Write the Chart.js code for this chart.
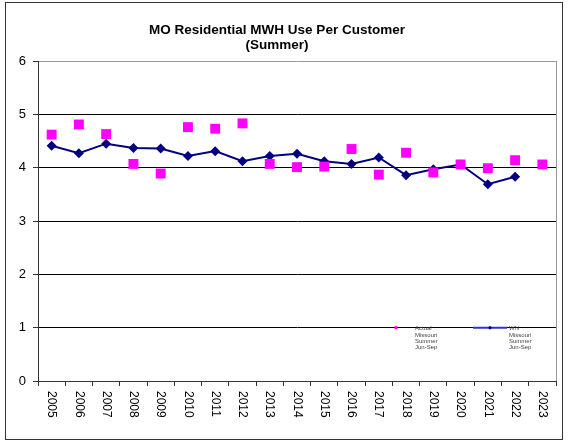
<!DOCTYPE html>
<html>
<head>
<meta charset="utf-8">
<script src="https://cdn.jsdelivr.net/npm/chart.js@4"></script>
<style>
  html, body { margin: 0; padding: 0; background: #fff; }
  #wrap { width: 568px; height: 443px; }
</style>
</head>
<body>
<div id="wrap"><canvas id="chart" width="568" height="443"></canvas></div>
<script>
// data
const years = ['2005','2006','2007','2008','2009','2010','2011','2012','2013','2014',
               '2015','2016','2017','2018','2019','2020','2021','2022','2023'];
const actualUse = [4.62, 4.81, 4.63, 4.07, 3.89, 4.76, 4.73, 4.83, 4.07, 4.01,
                   4.02, 4.35, 3.87, 4.28, 3.91, 4.06, 3.99, 4.14, 4.06];
const wnUse = [4.41, 4.27, 4.45, 4.37, 4.36, 4.22, 4.31, 4.12, 4.22, 4.26,
               4.12, 4.07, 4.19, 3.86, 3.97, 4.06, 3.69, 3.83, null];
const titleLines = ['MO Residential MWH Use Per Customer', '(Summer)'];
const actualLegend = ['Actual', 'Missouri', 'Summer', 'Jun-Sep'];
const wnLegend = ['WN', 'Missouri', 'Summer', 'Jun-Sep'];

const FONT = "'Liberation Sans', Arial, sans-serif";

// frame, title, right border, rotated year labels, small legend
const decor = {
  id: 'decor',
  afterDraw(chart) {
    const c = chart.ctx;
    const area = chart.chartArea;
    const xs = chart.scales.x;
    c.save();

    // outer frame
    c.strokeStyle = '#333';
    c.lineWidth = 1;
    c.strokeRect(5.5, 2.5, 557, 437);

    // right plot border
    c.strokeStyle = '#999';
    c.beginPath();
    c.moveTo(Math.round(area.right) + 0.5, area.top);
    c.lineTo(Math.round(area.right) + 0.5, area.bottom);
    c.stroke();

    // title
    c.fillStyle = '#000';
    c.font = 'bold 13.5px ' + FONT;
    c.textAlign = 'center';
    c.textBaseline = 'middle';
    c.fillText(titleLines[0], 277, 30);
    c.fillText(titleLines[1], 277, 45);

    // year labels, reading top to bottom
    c.font = '12px ' + FONT;
    c.textAlign = 'left';
    c.textBaseline = 'middle';
    years.forEach((y, i) => {
      const px = xs.getPixelForValue(i);
      c.save();
      c.translate(px, area.bottom + 10);
      c.rotate(Math.PI / 2);
      c.fillText(y, 0, 0);
      c.restore();
    });

    // legend
    const ly = chart.scales.y.getPixelForValue(1);
    c.font = '6px ' + FONT;
    c.fillStyle = '#444';
    c.textBaseline = 'middle';
    actualLegend.forEach((t, i) => c.fillText(t, 415, ly + 1 + i * 6.3));
    wnLegend.forEach((t, i) => c.fillText(t, 509, ly + 1 + i * 6.3));
    c.fillStyle = '#ff00ff';
    c.fillRect(394.5, ly - 1.5, 3, 3);
    c.strokeStyle = '#3333cc';
    c.lineWidth = 2;
    c.beginPath();
    c.moveTo(473, ly);
    c.lineTo(507, ly);
    c.stroke();
    c.fillStyle = '#000080';
    c.beginPath();
    c.moveTo(490, ly - 2);
    c.lineTo(492, ly);
    c.lineTo(490, ly + 2);
    c.lineTo(488, ly);
    c.closePath();
    c.fill();

    c.restore();
  }
};

new Chart(document.getElementById('chart').getContext('2d'), {
  type: 'line',
  data: {
    labels: years,
    datasets: [
      {
        label: 'Actual Missouri Summer Jun-Sep',
        data: actualUse,
        showLine: false,
        pointStyle: 'rect',
        pointRadius: 7,
        pointBackgroundColor: '#ff00ff',
        pointBorderColor: '#ff00ff',
        pointBorderWidth: 0
      },
      {
        label: 'WN Missouri Summer Jun-Sep',
        data: wnUse,
        borderColor: '#000080',
        borderWidth: 2,
        pointStyle: 'rectRot',
        pointRadius: 5,
        pointBackgroundColor: '#000080',
        pointBorderColor: '#000080',
        pointBorderWidth: 0,
        tension: 0
      }
    ]
  },
  options: {
    responsive: false,
    animation: false,
    devicePixelRatio: 1,
    layout: { padding: { left: 0, top: 61, right: 12, bottom: 0 } },
    plugins: { legend: { display: false }, title: { display: false }, tooltip: { enabled: false } },
    scales: {
      x: {
        offset: true,
        grid: { offset: true, drawOnChartArea: false, drawTicks: true, tickLength: 5, color: '#333' },
        border: { color: '#333', width: 1 },
        ticks: { color: 'transparent', maxRotation: 90, minRotation: 90, font: { size: 12, family: FONT } },
        afterFit(scale) { scale.height = 62; }
      },
      y: {
        min: 0,
        max: 6,
        ticks: { stepSize: 1, color: '#000', padding: 7, font: { size: 13, family: FONT } },
        grid: {
          color: ctx => (ctx.tick && ctx.tick.value === 6 ? '#999' : '#000'),
          tickColor: '#333',
          tickLength: 5
        },
        border: { color: '#333', width: 1 },
        afterFit(scale) { scale.width = 38; }
      }
    }
  },
  plugins: [decor]
});
</script>
</body>
</html>
